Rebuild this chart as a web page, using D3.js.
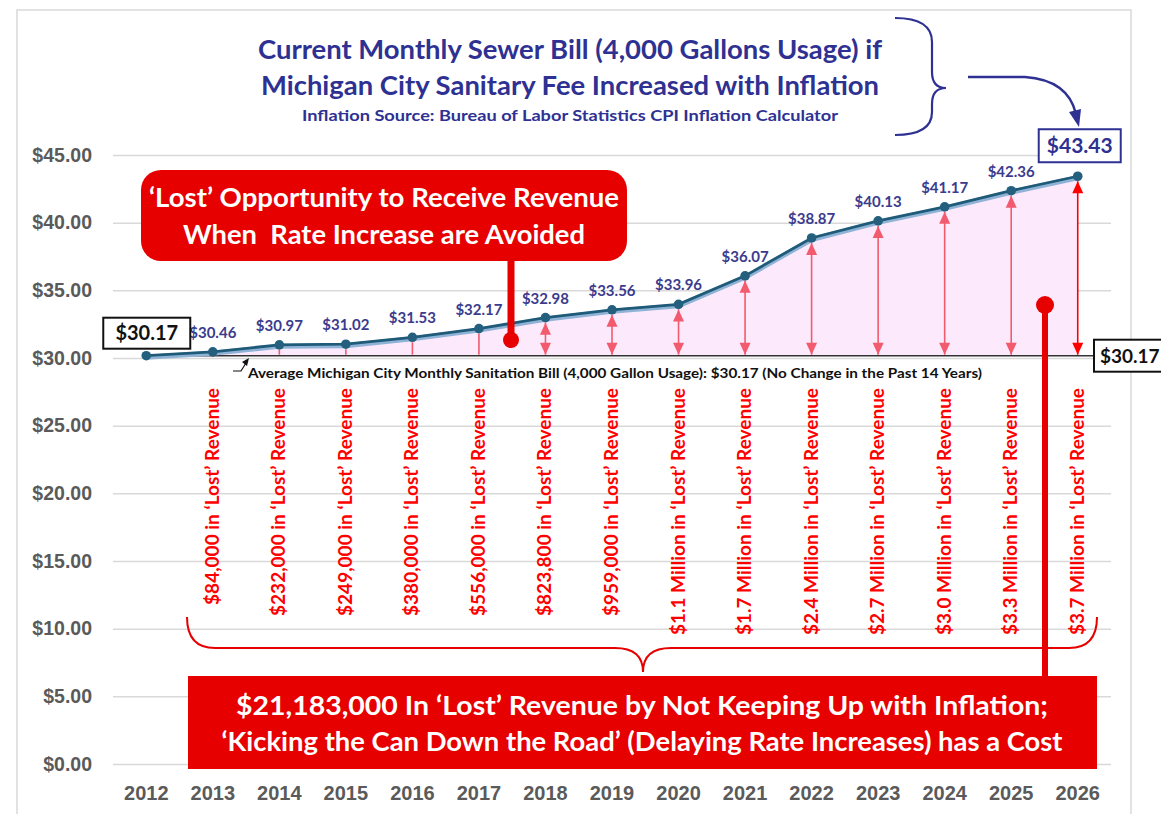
<!DOCTYPE html>
<html>
<head>
<meta charset="utf-8">
<script src="https://cdn.jsdelivr.net/npm/d3@7"></script>
<style>
  body { margin: 0; background: #fff; }
</style>
</head>
<body>
<div id="chart"></div>
<script>
const years = ["2012", "2013", "2014", "2015", "2016", "2017", "2018", "2019",
  "2020", "2021", "2022", "2023", "2024", "2025", "2026"];
const inflatedBill = [30.17, 30.46, 30.97, 31.02, 31.53, 32.17, 32.98, 33.56,
  33.96, 36.07, 38.87, 40.13, 41.17, 42.36, 43.43];
const currentBill = 30.17;
const lostRevenue = ["", "$84,000", "$232,000", "$249,000", "$380,000", "$556,000",
  "$823,800", "$959,000", "$1.1 Million", "$1.7 Million", "$2.4 Million",
  "$2.7 Million", "$3.0 Million", "$3.3 Million", "$3.7 Million"];
const yTicks = [0, 5, 10, 15, 20, 25, 30, 35, 40, 45];

const width = 1161;
const height = 814;
const plotLeft = 113;
const plotRight = 1111;
const plotTop = 155;
const plotBottom = 764;

const calibri = "Lato, 'Open Sans', sans-serif";
const arial = "'Liberation Sans', Arial, sans-serif";
const navy = "#2e3192";
const red = "#e60000";
const arrowRed = "#f25a6e";

const svg = d3.create("svg")
  .attr("viewBox", [0, 0, width, height])
  .attr("width", width)
  .attr("height", height);

svg.append("rect")
  .attr("x", 17).attr("y", 10)
  .attr("width", 1114).attr("height", 810)
  .attr("fill", "#fff")
  .attr("stroke", "#d9d9d9")
  .attr("stroke-width", 1.5);

const x = d3.scaleBand().domain(years).range([plotLeft, plotRight]);
const y = d3.scaleLinear().domain([0, 45]).range([plotBottom, plotTop]);
const cx = (d) => x(d) + x.bandwidth() / 2;

// y axis + gridlines
const yAxis = svg.append("g")
  .attr("transform", `translate(${plotLeft},0)`)
  .call(d3.axisLeft(y).tickValues(yTicks).tickFormat(d3.format("$.2f"))
    .tickSize(-(plotRight - plotLeft)).tickPadding(21));
yAxis.select(".domain").remove();
yAxis.selectAll(".tick line").attr("stroke", "#d9d9d9").attr("stroke-width", 1.5);
yAxis.selectAll(".tick text")
  .attr("font-family", arial).attr("font-weight", "bold")
  .attr("font-size", 19.5).attr("fill", "#5a5a5a");

// x axis
const xAxis = svg.append("g")
  .attr("transform", `translate(0,${plotBottom})`)
  .call(d3.axisBottom(x).tickSize(0).tickPadding(22));
xAxis.select(".domain").remove();
xAxis.selectAll(".tick text")
  .attr("font-family", arial).attr("font-weight", "bold")
  .attr("font-size", 20).attr("fill", "#5a5a5a");

const points = years.map((yr, i) => ({ year: yr, value: inflatedBill[i], lost: lostRevenue[i], i }));
const baseY = y(currentBill);

// shaded gap between inflated bill and current bill
svg.append("path")
  .datum(points)
  .attr("fill", "#fde9fc")
  .attr("d", d3.area().x((d) => cx(d.year)).y0(baseY).y1((d) => y(d.value)));

// double arrows for the gap
const arrows = svg.append("g");
points.slice(1).forEach((d) => {
  const px = cx(d.year);
  const top = y(d.value) + 5;
  const bottom = baseY - 1;
  const col = d.year === "2026" ? "#ff0000" : arrowRed;
  arrows.append("line")
    .attr("x1", px).attr("x2", px)
    .attr("y1", top).attr("y2", bottom)
    .attr("stroke", col).attr("stroke-width", 1.6);
  if (bottom - top > 28) {
    arrows.append("path")
      .attr("d", `M${px},${top} L${px - 5.5},${top + 12} L${px + 5.5},${top + 12} Z`)
      .attr("fill", col);
    arrows.append("path")
      .attr("d", `M${px},${bottom} L${px - 5.5},${bottom - 12} L${px + 5.5},${bottom - 12} Z`)
      .attr("fill", col);
  }
});

// current bill flat line
svg.append("line")
  .attr("x1", cx(years[0])).attr("x2", 1095)
  .attr("y1", baseY).attr("y2", baseY)
  .attr("stroke", "#333").attr("stroke-width", 1.5);

// inflation line
const line = d3.line().x((d) => cx(d.year)).y((d) => y(d.value));
svg.append("path").datum(points)
  .attr("fill", "none").attr("stroke", "#8fb3d6").attr("stroke-width", 5)
  .attr("transform", "translate(0,1.5)")
  .attr("d", line);
svg.append("path").datum(points)
  .attr("fill", "none").attr("stroke", "#1f5b78").attr("stroke-width", 2.8)
  .attr("d", line);
svg.append("g").selectAll("circle")
  .data(points)
  .join("circle")
  .attr("cx", (d) => cx(d.year)).attr("cy", (d) => y(d.value))
  .attr("r", 4.8)
  .attr("fill", "#24607d");

// value labels
svg.append("g").selectAll("text")
  .data(points.slice(1, -1))
  .join("text")
  .attr("x", (d) => cx(d.year))
  .attr("y", (d) => y(d.value) - 14)
  .attr("text-anchor", "middle")
  .attr("font-family", calibri).attr("font-weight", "bold")
  .attr("font-size", 15).attr("fill", "#3b3b8e")
  .text((d) => d3.format("$.2f")(d.value));

// boxed labels
function boxLabel(bx, by, bw, bh, txt, color, size, anchor) {
  svg.append("rect")
    .attr("x", bx).attr("y", by).attr("width", bw).attr("height", bh)
    .attr("fill", "#fff").attr("stroke", color).attr("stroke-width", 2);
  svg.append("text")
    .attr("x", anchor === "start" ? bx + 6 : bx + bw / 2)
    .attr("y", by + bh / 2)
    .attr("dy", "0.36em")
    .attr("text-anchor", anchor || "middle")
    .attr("font-family", calibri).attr("font-weight", "bold")
    .attr("font-size", size).attr("fill", color)
    .text(txt);
}
boxLabel(cx(years[0]) - 43, y(inflatedBill[0]) - 38, 87, 31, d3.format("$.2f")(inflatedBill[0]), "#111", 20);
boxLabel(cx("2026") - 39, y(inflatedBill[14]) - 47, 82, 33, d3.format("$.2f")(inflatedBill[14]), navy, 21);
boxLabel(1094, baseY - 16, 80, 32, d3.format("$.2f")(currentBill), "#111", 19, "start");

// vertical lost revenue labels
svg.append("g").selectAll("text")
  .data(points.slice(1))
  .join("text")
  .attr("transform", (d) => `translate(${cx(d.year) + 6},388) rotate(-90)`)
  .attr("text-anchor", "end")
  .attr("font-family", calibri).attr("font-weight", "bold")
  .attr("font-size", 19).attr("fill", "#ff0000")
  .text((d) => `${d.lost} in \u2018Lost\u2019 Revenue`);

// flat-line annotation
svg.append("path")
  .attr("d", "M233,371 L241,371 L246,363")
  .attr("fill", "none").attr("stroke", "#111").attr("stroke-width", 1.2);
svg.append("path")
  .attr("d", "M249,358 L242,362 L247,366 Z")
  .attr("fill", "#111");
svg.append("text")
  .attr("x", 248).attr("y", 378)
  .attr("font-family", calibri).attr("font-weight", "bold")
  .attr("font-size", 14).attr("fill", "#111")
  .attr("textLength", 734).attr("lengthAdjust", "spacingAndGlyphs")
  .text("Average Michigan City Monthly Sanitation Bill (4,000 Gallon Usage): $30.17 (No Change in the Past 14 Years)");

// title
const titleLines = [
  { t: "Current Monthly Sewer Bill (4,000 Gallons Usage) if", y: 59, size: 26, w: 624 },
  { t: "Michigan City Sanitary Fee Increased with Inflation", y: 95, size: 26, w: 618 },
  { t: "Inflation Source: Bureau of Labor Statistics CPI Inflation Calculator", y: 121, size: 16, w: 536 }
];
svg.append("g").selectAll("text")
  .data(titleLines)
  .join("text")
  .attr("x", 570).attr("y", (d) => d.y)
  .attr("text-anchor", "middle")
  .attr("font-family", calibri).attr("font-weight", "bold")
  .attr("font-size", (d) => d.size).attr("fill", navy)
  .attr("textLength", (d) => d.w).attr("lengthAdjust", "spacingAndGlyphs")
  .text((d) => d.t);

// blue brace and arrow to 2026 value
svg.append("path")
  .attr("d", "M895,18 Q932,18 932,42 L932,72 Q932,88 946,88 Q932,88 932,104 L932,112 Q932,135 895,135")
  .attr("fill", "none").attr("stroke", navy).attr("stroke-width", 2.2);
svg.append("path")
  .attr("d", "M968,77 L1025,77 Q1068,80 1076,114")
  .attr("fill", "none").attr("stroke", navy).attr("stroke-width", 2.5);
svg.append("path")
  .attr("d", "M1079,127 L1069,112 L1081,109 Z")
  .attr("fill", navy);

// top red callout
svg.append("line")
  .attr("x1", 511).attr("x2", 511).attr("y1", 255).attr("y2", 340)
  .attr("stroke", red).attr("stroke-width", 7);
svg.append("circle").attr("cx", 511).attr("cy", 340).attr("r", 8).attr("fill", red);
svg.append("rect")
  .attr("x", 141).attr("y", 170).attr("width", 486).attr("height", 91)
  .attr("rx", 20).attr("fill", red);
const callout1 = [
  { t: "\u2018Lost\u2019 Opportunity to Receive Revenue", y: 207, w: 470 },
  { t: "When  Rate Increase are Avoided", y: 244, w: 402 }
];
svg.append("g").selectAll("text")
  .data(callout1)
  .join("text")
  .attr("x", 384).attr("y", (d) => d.y)
  .attr("text-anchor", "middle")
  .attr("font-family", calibri).attr("font-weight", "bold")
  .attr("font-size", 26).attr("fill", "#fff")
  .attr("textLength", (d) => d.w).attr("lengthAdjust", "spacingAndGlyphs")
  .style("white-space", "pre")
  .text((d) => d.t);

// bottom red brace
svg.append("path")
  .attr("d", "M187,617 Q187,648 215,648 L615,648 Q643,648 643,672 Q643,648 671,648 L1069,648 Q1097,648 1097,617")
  .attr("fill", "none").attr("stroke", red).attr("stroke-width", 2);

// bottom red callout
svg.append("line")
  .attr("x1", 1045).attr("x2", 1045).attr("y1", 305).attr("y2", 680)
  .attr("stroke", red).attr("stroke-width", 6);
svg.append("circle").attr("cx", 1045).attr("cy", 305).attr("r", 9).attr("fill", red);
svg.append("rect")
  .attr("x", 188).attr("y", 676).attr("width", 909).attr("height", 93)
  .attr("fill", red);
const callout2 = [
  { t: "$21,183,000 In \u2018Lost\u2019 Revenue by Not Keeping Up with Inflation;", y: 715, w: 812 },
  { t: "\u2018Kicking the Can Down the Road\u2019 (Delaying Rate Increases) has a Cost", y: 751, w: 841 }
];
svg.append("g").selectAll("text")
  .data(callout2)
  .join("text")
  .attr("x", 642).attr("y", (d) => d.y)
  .attr("text-anchor", "middle")
  .attr("font-family", calibri).attr("font-weight", "bold")
  .attr("font-size", 27).attr("fill", "#fff")
  .attr("textLength", (d) => d.w).attr("lengthAdjust", "spacingAndGlyphs")
  .text((d) => d.t);

d3.select("#chart").append(() => svg.node());
</script>
</body>
</html>
